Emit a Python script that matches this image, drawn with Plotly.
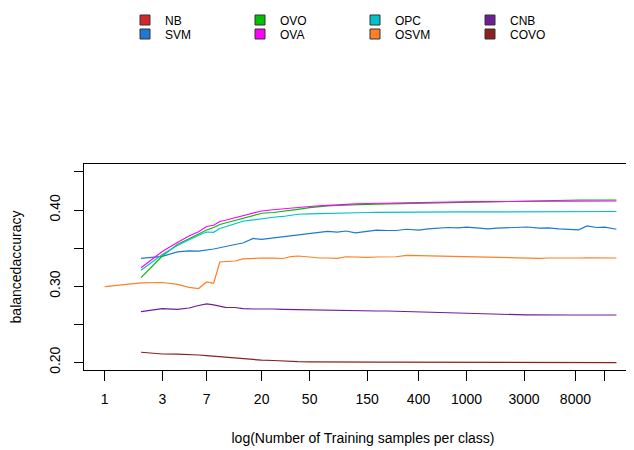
import plotly.graph_objects as go

# ---- data ----
samples = [2, 3, 4, 5, 6, 7, 8, 9, 10, 12, 14, 17, 20, 25, 30, 35, 40, 50, 60, 70,
           85, 100, 120, 150, 180, 220, 260, 320, 400, 480, 580, 700, 850, 1000,
           1200, 1500, 1800, 2200, 2600, 3200, 4000, 4800, 5800, 7000, 8500,
           10000, 12000, 14000, 17500]
samples_osvm = [1] + samples

nb = []  # not visible inside the plotted range
svm = [0.3366, 0.3392, 0.3449, 0.3464, 0.3459, 0.3471, 0.3488, 0.3504, 0.3523, 0.3547,
       0.3567, 0.3626, 0.3613, 0.3632, 0.3648, 0.3668, 0.3674, 0.3698, 0.3705, 0.3720,
       0.3709, 0.3724, 0.3701, 0.3724, 0.3737, 0.3731, 0.3731, 0.3747, 0.3735, 0.3751,
       0.3764, 0.3770, 0.3764, 0.3774, 0.3764, 0.3751, 0.3761, 0.3764, 0.3768, 0.3777,
       0.3761, 0.3766, 0.3751, 0.3747, 0.3740, 0.3790, 0.3770, 0.3774, 0.3747]
ovo = [0.3111, 0.3396, 0.3547, 0.3626, 0.3691, 0.3737, 0.3770, 0.3810, 0.3829, 0.3862,
       0.3895, 0.3928, 0.3957, 0.3967, 0.3980, 0.3993, 0.4009, 0.4030, 0.4046, 0.4053,
       0.4059, 0.4066, 0.4070, 0.4075, 0.4076, 0.4079, 0.4081, 0.4088, 0.4092, 0.4096,
       0.4100, 0.4102, 0.4105, 0.4108, 0.4110, 0.4113, 0.4116, 0.4118, 0.4121, 0.4123,
       0.4126, 0.4127, 0.4129, 0.4130, 0.4131, 0.4131, 0.4131, 0.4131, 0.4131]
ova = [0.3242, 0.3455, 0.3573, 0.3659, 0.3715, 0.3783, 0.3800, 0.3849, 0.3865, 0.3895,
       0.3928, 0.3954, 0.3987, 0.4003, 0.4016, 0.4022, 0.4033, 0.4046, 0.4055, 0.4062,
       0.4070, 0.4076, 0.4081, 0.4085, 0.4088, 0.4089, 0.4092, 0.4095, 0.4097, 0.4100,
       0.4102, 0.4105, 0.4106, 0.4108, 0.4109, 0.4110, 0.4112, 0.4112, 0.4113, 0.4113,
       0.4114, 0.4114, 0.4116, 0.4116, 0.4117, 0.4117, 0.4118, 0.4118, 0.4118]
opc = [0.3208, 0.3416, 0.3534, 0.3610, 0.3669, 0.3711, 0.3707, 0.3757, 0.3779, 0.3823,
       0.3852, 0.3869, 0.3888, 0.3905, 0.3915, 0.3928, 0.3944, 0.3950, 0.3954, 0.3957,
       0.3961, 0.3965, 0.3966, 0.3967, 0.3968, 0.3970, 0.3970, 0.3971, 0.3971, 0.3972,
       0.3974, 0.3974, 0.3975, 0.3975, 0.3976, 0.3976, 0.3978, 0.3978, 0.3978, 0.3979,
       0.3979, 0.3979, 0.3980, 0.3980, 0.3980, 0.3980, 0.3980, 0.3980, 0.3980]
osvm = [0.2993, 0.3042, 0.3048, 0.3024, 0.2983, 0.2969, 0.3055, 0.3038, 0.3317, 0.3321,
        0.3330, 0.3357, 0.3366, 0.3370, 0.3367, 0.3363, 0.3389, 0.3396, 0.3383, 0.3370,
        0.3370, 0.3366, 0.3386, 0.3379, 0.3379, 0.3383, 0.3380, 0.3386, 0.3403, 0.3400,
        0.3396, 0.3387, 0.3387, 0.3386, 0.3386, 0.3383, 0.3380, 0.3379, 0.3370, 0.3370,
        0.3367, 0.3366, 0.3370, 0.3367, 0.3366, 0.3370, 0.3372, 0.3374, 0.3372, 0.3370]
cnb = [0.2665, 0.2704, 0.2694, 0.2713, 0.2746, 0.2766, 0.2753, 0.2736, 0.2722, 0.2720,
       0.2704, 0.2700, 0.2703, 0.2700, 0.2696, 0.2694, 0.2690, 0.2683, 0.2683, 0.2680,
       0.2678, 0.2676, 0.2674, 0.2674, 0.2674, 0.2674, 0.2670, 0.2665, 0.2661, 0.2657,
       0.2652, 0.2648, 0.2644, 0.2641, 0.2638, 0.2634, 0.2632, 0.2628, 0.2625, 0.2624,
       0.2621, 0.2621, 0.2621, 0.2621, 0.2621, 0.2621, 0.2621, 0.2621, 0.2621]
covo = [0.2132, 0.2109, 0.2107, 0.2104, 0.2096, 0.2087, 0.2080, 0.2072, 0.2063, 0.2057,
        0.2050, 0.2030, 0.2028, 0.2024, 0.2015, 0.2009, 0.2008, 0.2007, 0.2005, 0.2004,
        0.2004, 0.2003, 0.2003, 0.2003, 0.2002, 0.2002, 0.2002, 0.2001, 0.2001, 0.2001,
        0.2000, 0.2000, 0.2000, 0.2000, 0.1999, 0.1999, 0.1999, 0.1999, 0.1999, 0.1998,
        0.1998, 0.1998, 0.1998, 0.1998, 0.1997, 0.1997, 0.1997, 0.1997, 0.1997]

x_tickvals = [1, 3, 7, 20, 50, 150, 400, 1000, 3000, 8000, 14000]
x_ticktext = ["1", "3", "7", "20", "50", "150", "400", "1000", "3000", "8000", ""]
y_tickvals = [0.20, 0.25, 0.30, 0.35, 0.40, 0.45]
y_ticktext = ["0.20", "", "0.30", "", "0.40", ""]

series = [
    ("NB", samples, nb, "#D7262B", "legend"),
    ("SVM", samples, svm, "#1F78D4", "legend2"),
    ("OVO", samples, ovo, "#00C000", "legend"),
    ("OVA", samples, ova, "#FF00FF", "legend2"),
    ("OPC", samples, opc, "#00C2CC", "legend"),
    ("OSVM", samples_osvm, osvm, "#FF7F24", "legend2"),
    ("CNB", samples, cnb, "#6E1E96", "legend"),
    ("COVO", samples, covo, "#8B2020", "legend2"),
]

FONT = "Liberation Sans, Arial, Helvetica, sans-serif"

fig = go.Figure()
for name, xs, ys, col, lg in series:
    fig.add_trace(go.Scatter(x=xs[:len(ys)], y=ys, mode="lines", name=name,
                             line=dict(color=col, width=1.2), showlegend=False))
# legend entries (filled squares)
for name, xs, ys, col, lg in series:
    fig.add_trace(go.Scatter(x=[None], y=[None], mode="markers", name=name,
                             marker=dict(symbol="square", size=10, color=col,
                                         line=dict(color="#333333", width=1)),
                             legend=lg, showlegend=True))

legend_common = dict(orientation="h", xref="container", yref="container",
                     xanchor="left", yanchor="middle", entrywidth=70,
                     font=dict(family=FONT, size=12, color="black"),
                     bgcolor="rgba(0,0,0,0)", borderwidth=0, itemclick=False)

fig.update_layout(
    width=634, height=450,
    margin=dict(l=76, r=0, t=156, b=88, autoexpand=False),
    plot_bgcolor="white", paper_bgcolor="white",
    font=dict(family=FONT, size=14, color="black"),
    legend=dict(x=117 / 634, y=1 - 12 / 450, **legend_common),
    legend2=dict(x=117 / 634, y=1 - 26 / 450, **legend_common),
    xaxis=dict(type="log", range=[-0.172, 4.455], showgrid=False, zeroline=False,
               automargin=False,
               showline=True, mirror=True, linecolor="black", linewidth=1,
               ticks="outside", ticklen=10, tickcolor="black", tickwidth=1,
               tickvals=x_tickvals, ticktext=x_ticktext,
               tickfont=dict(size=14), ticklabelstandoff=6,
               title=dict(text="log(Number of Training samples per class)",
                          font=dict(size=14), standoff=27)),
    yaxis=dict(range=[0.1899, 0.4604], showgrid=False, zeroline=False,
               automargin=False,
               showline=True, mirror=False, linecolor="black", linewidth=1,
               ticks="outside", ticklen=9, tickcolor="black", tickwidth=1,
               tickvals=y_tickvals, ticktext=y_ticktext, tickangle=-90,
               tickfont=dict(size=14), ticklabelstandoff=8,
               title=dict(text="balancedaccuracy", font=dict(size=14), standoff=25)),
)

fig.write_html("out.html")
